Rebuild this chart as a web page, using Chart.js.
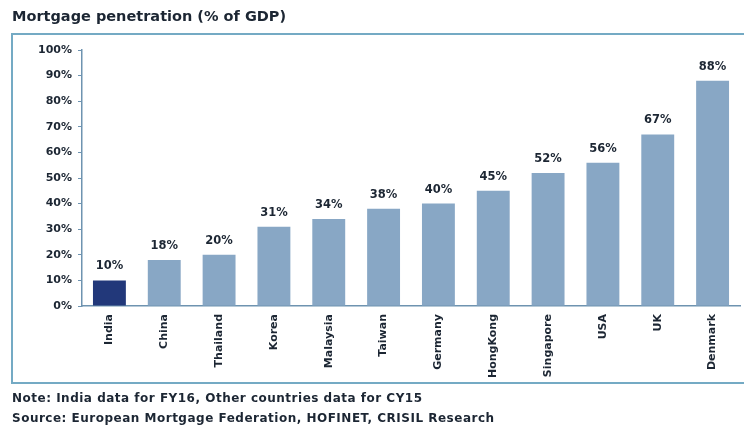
<!DOCTYPE html>
<html>
<head>
<meta charset="utf-8">
<script src="https://cdn.jsdelivr.net/npm/chart.js@4.4.0/dist/chart.umd.min.js"></script>
<style>
  html, body { margin: 0; padding: 0; background: #fff; }
  #wrap { width: 744px; height: 425px; position: relative; }
</style>
</head>
<body>
<div id="wrap"><canvas id="chart" width="744" height="425"></canvas></div>
<script>
// Chart data
const countries = ['India', 'China', 'Thailand', 'Korea', 'Malaysia', 'Taiwan', 'Germany', 'HongKong', 'Singapore', 'USA', 'UK', 'Denmark'];
const penetration = [10, 18, 20, 31, 34, 38, 40, 45, 52, 56, 67, 88];
const yTicks = [0, 10, 20, 30, 40, 50, 60, 70, 80, 90, 100];

const titleText = 'Mortgage penetration (% of GDP)';
const noteText = 'Note: India data for FY16, Other countries data for CY15';
const sourceText = 'Source: European Mortgage Federation, HOFINET, CRISIL Research';

const darkBar = '#22387a';
const lightBar = '#88a7c5';
const textColor = '#1c2633';
const fontFamily = '"DejaVu Sans", Verdana, sans-serif';

// Frame, title and notes around the plot
const framePlugin = {
    id: 'frame',
    beforeDraw(chart) {
        const ctx = chart.ctx;
        ctx.save();
        ctx.strokeStyle = '#74aac4';
        ctx.lineWidth = 2;
        ctx.strokeRect(12, 34, 740, 349);
        ctx.fillStyle = textColor;
        ctx.font = 'bold 14.5px ' + fontFamily;
        ctx.textBaseline = 'middle';
        ctx.fillText(titleText, 12, 17);
        ctx.font = 'bold 12px ' + fontFamily;
        ctx.letterSpacing = '0.5px';
        ctx.fillText(noteText, 12, 399);
        ctx.fillText(sourceText, 12, 419);
        ctx.restore();
    }
};

// Value labels above each bar
const valueLabels = {
    id: 'valueLabels',
    afterDatasetsDraw(chart) {
        const ctx = chart.ctx;
        const meta = chart.getDatasetMeta(0);
        ctx.save();
        ctx.fillStyle = textColor;
        ctx.font = 'bold 11.5px ' + fontFamily;
        ctx.textAlign = 'center';
        ctx.textBaseline = 'middle';
        meta.data.forEach((bar, i) => {
            ctx.fillText(penetration[i] + '%', bar.x, bar.y - 14);
        });
        ctx.restore();
    }
};

new Chart(document.getElementById('chart'), {
    type: 'bar',
    data: {
        labels: countries,
        datasets: [{
            data: penetration,
            backgroundColor: countries.map((c, i) => i === 0 ? darkBar : lightBar),
            categoryPercentage: 0.6,
            barPercentage: 1.0
        }]
    },
    options: {
        responsive: false,
        animation: false,
        layout: { padding: { left: 12, top: 50, right: 4, bottom: 40 } },
        plugins: {
            legend: { display: false },
            tooltip: { enabled: false }
        },
        scales: {
            x: {
                grid: { display: false, drawTicks: false },
                border: { color: '#6e93b0', width: 1.5 },
                ticks: {
                    color: textColor,
                    font: { family: fontFamily, size: 11, weight: 'bold' },
                    minRotation: 90,
                    maxRotation: 90,
                    padding: 8,
                    autoSkip: false
                },
                afterFit(scale) { scale.height = 79; }
            },
            y: {
                min: 0,
                max: 100,
                afterBuildTicks(scale) {
                    scale.ticks = yTicks.map(v => ({ value: v }));
                },
                grid: { drawOnChartArea: false, drawTicks: true, tickLength: 4, color: '#6e93b0' },
                border: { color: '#6e93b0', width: 1.5 },
                ticks: {
                    color: textColor,
                    font: { family: fontFamily, size: 11, weight: 'bold' },
                    padding: 6,
                    callback: v => v + '%'
                },
                afterFit(scale) { scale.width = 70; }
            }
        }
    },
    plugins: [framePlugin, valueLabels]
});
</script>
</body>
</html>
